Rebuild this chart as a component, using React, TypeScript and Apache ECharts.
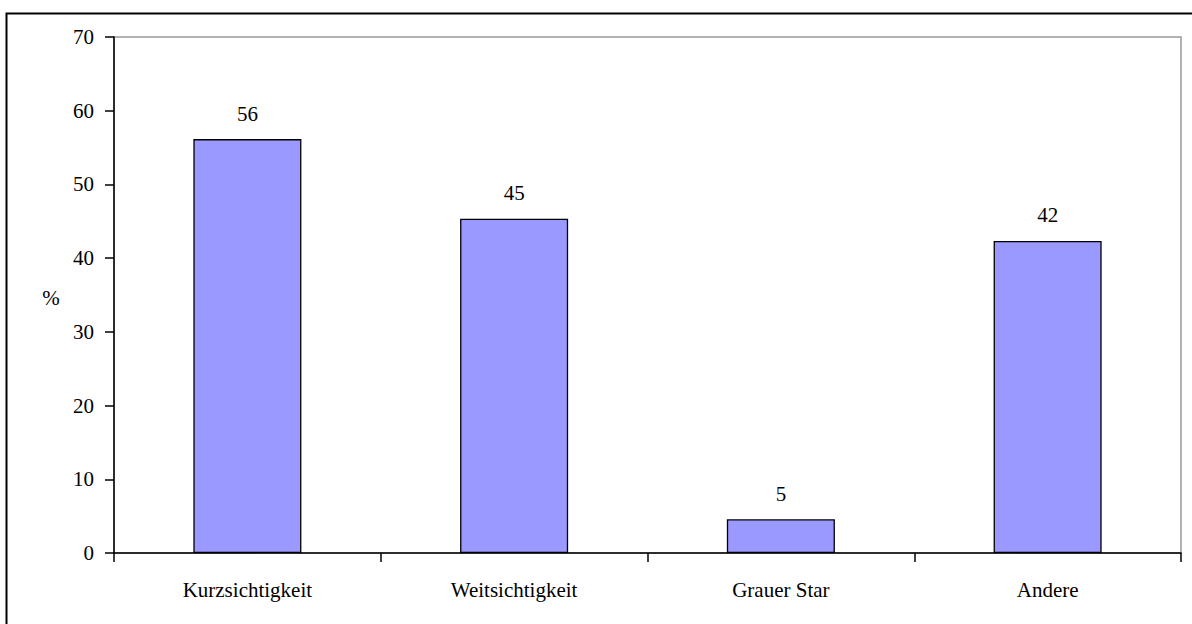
import React, { useEffect, useRef } from "react";
import * as echarts from "echarts";

const categories = ["Kurzsichtigkeit", "Weitsichtigkeit", "Grauer Star", "Andere"];
const values = [56.15, 45.36, 4.58, 42.33];
const yTicks = { min: 0, max: 70, interval: 10 };
const yName = "%";

const FONT = "Times New Roman, Liberation Serif, DejaVu Serif, serif";

export default function App() {
  const ref = useRef<HTMLDivElement>(null);
  useEffect(() => {
    if (!ref.current) return;
    const chart = echarts.init(ref.current, null, { renderer: "svg" });
    chart.setOption({
      animation: false,
      backgroundColor: "#ffffff",
      textStyle: { fontFamily: FONT },
      grid: {
        left: 114,
        right: 11,
        top: 37,
        bottom: 71,
        show: true,
        borderColor: "#999999",
        borderWidth: 1.5,
        backgroundColor: "transparent",
      },
      graphic: [
        {
          type: "rect",
          shape: { x: 6.5, y: 13.5, width: 1220, height: 640 },
          style: { fill: "none", stroke: "#000", lineWidth: 2 },
          silent: true,
        },
        {
          type: "text",
          x: 51,
          y: 298,
          style: {
            text: yName,
            fontFamily: FONT,
            fontSize: 21,
            fill: "#000",
            align: "center",
            verticalAlign: "middle",
          },
        },
      ],
      xAxis: {
        type: "category",
        data: categories,
        axisLine: { show: true, lineStyle: { color: "#000", width: 1.5 } },
        axisTick: { show: true, length: 9, lineStyle: { color: "#000", width: 1.5 } },
        axisLabel: {
          color: "#000",
          fontFamily: FONT,
          fontSize: 21,
          margin: 26,
        },
      },
      yAxis: {
        type: "value",
        min: yTicks.min,
        max: yTicks.max,
        interval: yTicks.interval,
        axisLine: { show: true, lineStyle: { color: "#000", width: 1.5 } },
        axisTick: { show: true, length: 9, lineStyle: { color: "#000", width: 1.5 } },
        splitLine: { show: false },
        axisLabel: {
          color: "#000",
          fontFamily: FONT,
          fontSize: 21,
          margin: 20,
        },
      },
      series: [
        {
          type: "bar",
          data: values,
          barWidth: "40.5%",
          itemStyle: { color: "#9999FF", borderColor: "#000", borderWidth: 1.3 },
          label: {
            show: true,
            position: "top",
            distance: 15,
            color: "#000",
            fontFamily: FONT,
            fontSize: 21,
            formatter: (p: any) => String(Math.round(p.value)),
          },
        },
      ],
    });
    return () => chart.dispose();
  }, []);
  return (
    <div
      ref={ref}
      style={{ position: "fixed", left: 0, top: 0, width: 1192, height: 624, overflow: "hidden" }}
    />
  );
}
